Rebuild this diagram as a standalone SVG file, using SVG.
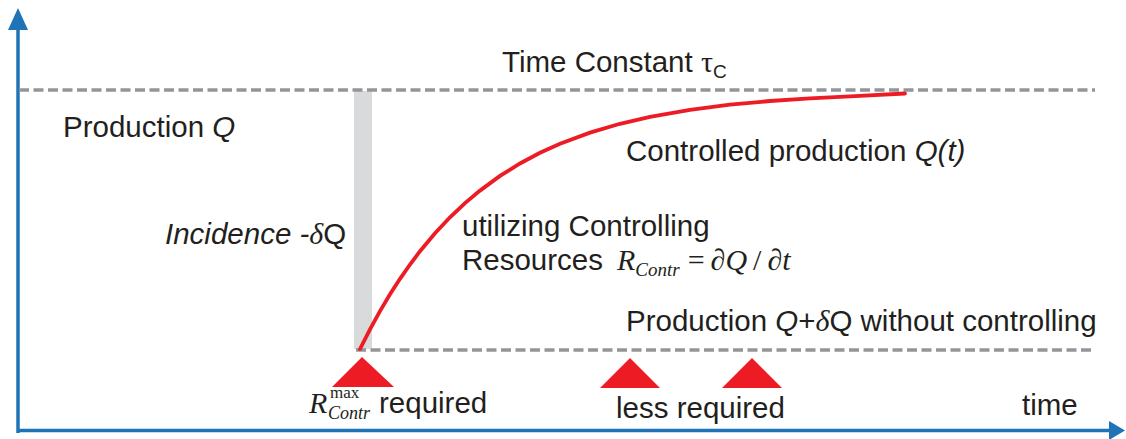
<svg xmlns="http://www.w3.org/2000/svg" width="1126" height="439" viewBox="0 0 1126 439">
<style>
.t{font-family:"Liberation Sans",Arial,sans-serif;font-size:29.5px;fill:#231f20}
.m{font-family:"Liberation Serif","Times New Roman",serif;fill:#231f20}
.i{font-style:italic}
.dash{stroke:#939598;stroke-width:3.5;stroke-dasharray:10 4.5;fill:none}
.ax{stroke:#1f73b7;stroke-width:3.5;fill:none}
.tri{fill:#ed1c24}
</style>
<rect width="1126" height="439" fill="#ffffff"/>
<g id="axes">
<path class="ax" d="M18,433 V26"/>
<path class="ax" d="M17,430.5 H1110"/>
<polygon fill="#1f73b7" points="18,8 8,30 28,30"/>
<polygon fill="#1f73b7" points="1125,430.5 1109,421 1109,440"/>
</g>
<g id="bar"><rect x="354" y="91" width="18" height="258" fill="#d9dadb"/></g>
<g id="connectors">
<path class="dash" d="M19,90 H1095"/>
<path class="dash" d="M356,350 H1091"/>
<path id="curve" fill="none" stroke="#ed1c24" stroke-width="3.8" stroke-linecap="round" d="M360,349 L370,329.3 L380,311.1 L390,294.3 L400,278.8 L410,264.5 L420,251.2 L435,233.3 L450,217.3 L465,203.1 L480,190.6 L500,175.9 L520,163.5 L540,152.8 L560,143.8 L590,132.6 L620,123.8 L650,116.8 L690,109.8 L730,104.7 L770,101 L810,98.3 L860,95.9 L905,93.5"/>
</g>
<g id="triangles">
<polygon class="tri" points="362,357 332,387 394,387"/>
<polygon class="tri" points="630,358 600,388 660,388"/>
<polygon class="tri" points="752,358 722,388 782,388"/>
</g>
<g id="labels">
<text class="t" x="502" y="72">Time Constant <tspan class="m" font-size="30">τ</tspan><tspan font-size="19" dy="6">C</tspan></text>
<text class="t" x="63" y="137">Production <tspan class="i">Q</tspan></text>
<text class="t" x="626" y="161">Controlled production <tspan class="i">Q(t)</tspan></text>
<text class="t i" x="165" y="244">Incidence -<tspan class="m" font-size="30">δ</tspan><tspan font-style="normal">Q</tspan></text>
<text class="t" x="462" y="236">utilizing Controlling</text>
<text class="t" x="462" y="270">Resources</text>
<text class="m i" x="617" y="270" font-size="30">R<tspan font-size="19" dy="6">Contr</tspan><tspan font-style="normal" dy="-6" dx="8">=</tspan><tspan dx="6">∂Q</tspan><tspan font-style="normal" dx="6">/</tspan><tspan dx="6">∂t</tspan></text>
<text class="t" x="626" y="331">Production <tspan class="i">Q</tspan>+<tspan class="m i" font-size="30">δ</tspan>Q without controlling</text>
<text class="m i" x="309" y="413" font-size="30">R</text>
<text class="m" x="330" y="398" font-size="17">max</text>
<text class="m i" x="328" y="419" font-size="18">Contr</text>
<text class="t" x="379" y="413">required</text>
<text class="t" x="616" y="418">less required</text>
<text class="t" x="1022" y="415">time</text>
</g>
</svg>
